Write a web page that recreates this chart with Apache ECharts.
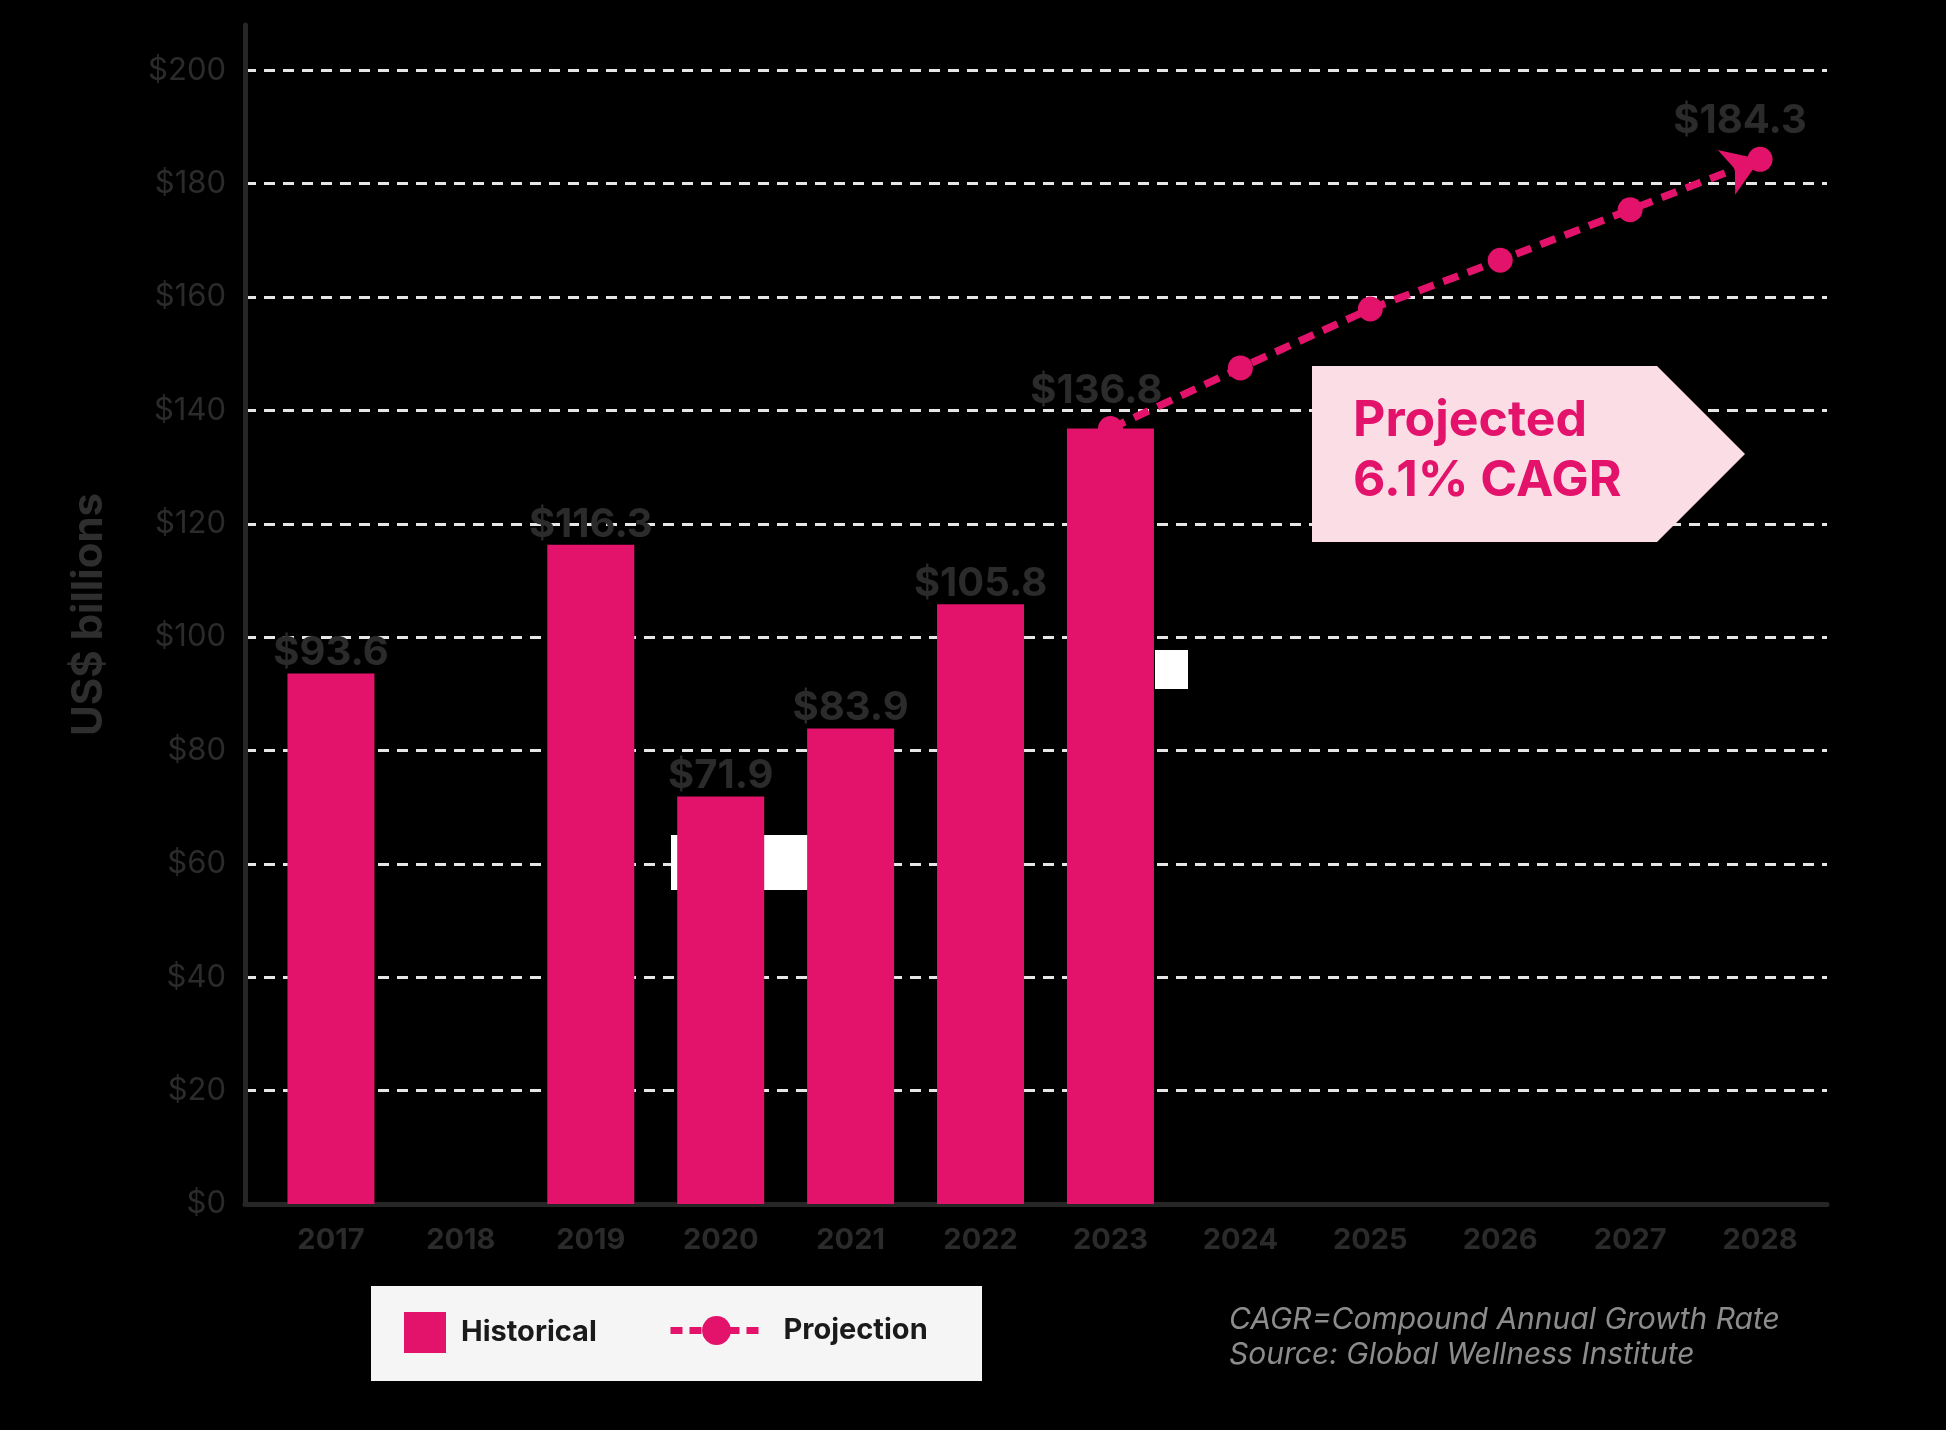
<!DOCTYPE html>
<html>
<head>
<meta charset="utf-8">
<script src="https://cdn.jsdelivr.net/npm/echarts@6/dist/echarts.min.js"></script>
<style>
  html, body { margin: 0; padding: 0; background: #000; }
  #main { width: 1946px; height: 1430px; }
</style>
</head>
<body>
<div id="main"></div>
<script>
// data
var years = ['2017', '2018', '2019', '2020', '2021', '2022', '2023', '2024', '2025', '2026', '2027', '2028'];
var historical = [93.6, null, 116.3, 71.9, 83.9, 105.8, 136.8, null, null, null, null, null];
var projection = [null, null, null, null, null, null, 136.8, 147.5, 157.9, 166.5, 175.4, 184.3];
var yMax = 208;
var yStep = 20;

var pink = '#e3126b';
var labelGrey = '#2b2b2b';
var font = 'Inter';

var myChart = echarts.init(document.getElementById('main'));

// 2023 label sits a little higher in the original
var barData = historical.map(function (v, i) {
  if (i === 6) {
    return { value: v, label: { offset: [-14, -18] } };
  }
  return v;
});

// only the last projected point gets a value label
var projData = projection.map(function (v, i) {
  if (i === projection.length - 1) {
    return { value: v, label: { show: true } };
  }
  return v;
});

var option = {
  backgroundColor: '#000',
  animation: false,
  grid: [
    { left: 266, right: 121, top: 25, bottom: 226 },
    { left: 245, right: 119, top: 25, bottom: 226 }
  ],
  legend: [
    {
      data: ['Historical'],
      left: 404, top: 1312, padding: 0,
      icon: 'rect', itemWidth: 42, itemHeight: 41,
      textStyle: { fontSize: 29, fontWeight: 'bold', color: '#1a1a1a', fontFamily: font, padding: [0, 0, 0, 10] }
    },
    {
      data: ['Projection'],
      left: 667, top: 1316, padding: 0,
      itemWidth: 92, itemHeight: 36,
      lineStyle: { width: 7, type: [12, 7] },
      textStyle: { fontSize: 29, fontWeight: 'bold', color: '#1a1a1a', fontFamily: font, padding: [0, 0, 0, 16] }
    }
  ],
  xAxis: [
    {
      type: 'category', gridIndex: 0, data: years,
      axisLine: { show: false }, axisTick: { show: false },
      axisLabel: { margin: 22, fontSize: 29, fontWeight: 'bold', color: labelGrey, fontFamily: font }
    },
    {
      type: 'value', gridIndex: 1, min: 0, max: 1,
      axisLine: { show: true, lineStyle: { color: '#262626', width: 5 } },
      axisTick: { show: false }, axisLabel: { show: false }, splitLine: { show: false }
    }
  ],
  yAxis: [
    { type: 'value', gridIndex: 0, min: 0, max: yMax, show: false },
    {
      type: 'value', gridIndex: 1, min: 0, max: yMax, interval: yStep,
      name: 'US$ billions', nameLocation: 'middle', nameGap: 135,
      nameTextStyle: { fontSize: 42, fontWeight: 'bold', color: '#2e2e2e', fontFamily: font },
      axisLine: { show: true, lineStyle: { color: '#262626', width: 5 } },
      axisTick: { show: false },
      axisLabel: {
        margin: 19, fontSize: 31, color: labelGrey, fontFamily: font, showMaxLabel: false,
        formatter: function (v) { return '$' + v; }
      },
      splitLine: { show: true, showMaxLine: false, lineStyle: { color: '#e6e6e6', width: 3, type: [11, 8] } }
    }
  ],
  series: [
    {
      name: 'Historical',
      type: 'bar',
      xAxisIndex: 0, yAxisIndex: 0,
      data: barData,
      barWidth: 87,
      itemStyle: { color: pink },
      label: {
        show: true, position: 'top', distance: 0,
        fontSize: 40, fontWeight: 'bold', color: labelGrey, fontFamily: font,
        formatter: function (p) { return '$' + p.value.toFixed(1); }
      }
    },
    {
      name: 'Projection',
      type: 'line',
      xAxisIndex: 0, yAxisIndex: 0,
      data: projData,
      symbol: 'circle', symbolSize: 25,
      itemStyle: { color: pink },
      lineStyle: { color: pink, width: 7.5, type: [16, 10] },
      label: {
        show: false, position: 'top', distance: 6, offset: [-20, 0],
        fontSize: 40, fontWeight: 'bold', color: labelGrey, fontFamily: font,
        formatter: function (p) { return '$' + p.value.toFixed(1); }
      },
      markLine: {
        silent: true,
        symbol: ['none', 'arrow'],
        symbolSize: 36,
        label: { show: false },
        lineStyle: { color: pink, width: 0, type: 'solid' },
        itemStyle: { color: pink },
        data: [[
          { coord: [years[10], projection[10]] },
          { coord: [years[11], projection[11]] }
        ]]
      }
    }
  ],
  graphic: [
    // stray white boxes
    { type: 'rect', z: 1, shape: { x: 671, y: 835, width: 138, height: 55 }, style: { fill: '#ffffff' } },
    { type: 'rect', z: 1, shape: { x: 1155, y: 650, width: 33, height: 39 }, style: { fill: '#ffffff' } },
    // CAGR callout
    {
      type: 'polygon', z: 5,
      shape: { points: [[1312, 366], [1657, 366], [1745, 454], [1657, 542], [1312, 542]] },
      style: { fill: '#fbdde5' }
    },
    {
      type: 'text', z: 6, x: 1353, y: 451,
      style: {
        text: 'Projected\n6.1% CAGR', fill: pink, fontSize: 50, fontWeight: 'bold',
        fontFamily: font, lineHeight: 60, verticalAlign: 'middle', align: 'left'
      }
    },
    // legend box
    { type: 'rect', z: 1, shape: { x: 371, y: 1286, width: 611, height: 95 }, style: { fill: '#f5f5f5' } },
    // note
    {
      type: 'text', z: 6, x: 1229, y: 1337,
      style: {
        text: 'CAGR=Compound Annual Growth Rate\nSource: Global Wellness Institute',
        fill: '#8c8c8c', fontSize: 30, fontStyle: 'italic', fontFamily: font,
        lineHeight: 35, verticalAlign: 'middle', align: 'left'
      }
    }
  ]
};

myChart.setOption(option);
</script>
</body>
</html>
